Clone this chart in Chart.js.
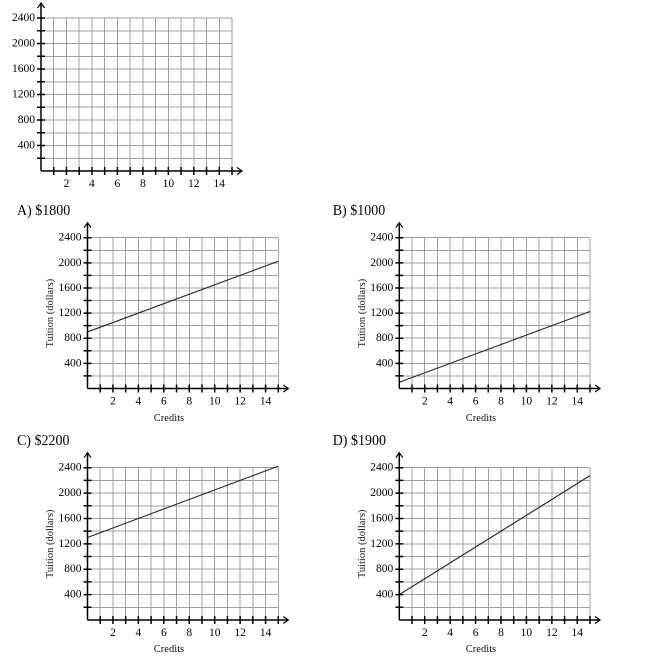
<!DOCTYPE html>
<html>
<head>
<meta charset="utf-8">
<script src="https://cdn.jsdelivr.net/npm/chart.js@4.4.1/dist/chart.umd.min.js"></script>
<style>
  html, body { margin: 0; padding: 0; background: #fff; }
  body { width: 650px; height: 657px; position: relative; overflow: hidden; font-family: 'Liberation Serif', 'DejaVu Serif', serif; color: #000; }
  canvas { position: absolute; }
  .opt { position: absolute; font-size: 14px; line-height: 16px; white-space: nowrap; }
  .xt { position: absolute; font-size: 10.5px; line-height: 12px; white-space: nowrap; transform: translateX(-50%); color: #111; }
</style>
</head>
<body>
<script>
// ---- data ----
const creditsRange = [0, 15];
const tuitionA = [900, 2025];
const tuitionB = [100, 1225];
const tuitionC = [1300, 2425];
const tuitionD = [400, 2275];
const optionLabels = ['A) $1800', 'B) $1000', 'C) $2200', 'D) $1900'];
const xTickValues = [2, 4, 6, 8, 10, 12, 14];
const yTickValues = [400, 800, 1200, 1600, 2000, 2400];
const xMax = 15, yMax = 2400, xStep = 1, yStep = 200;
const yAxisTitle = 'Tuition (dollars)';
const xAxisTitle = 'Credits';

Chart.defaults.font.family = "'Liberation Serif', 'DejaVu Serif', serif";
Chart.defaults.color = '#000';
Chart.defaults.animation = false;

const axesPlugin = {
  id: 'axesArrows',
  afterDraw(chart) {
    const ctx = chart.ctx, xs = chart.scales.x, ys = chart.scales.y;
    const x0 = xs.getPixelForValue(0), y0 = ys.getPixelForValue(0);
    const yTop = ys.getPixelForValue(yMax) - 15;
    const xEnd = xs.getPixelForValue(xMax) + 10;
    ctx.save();
    ctx.strokeStyle = '#000';
    ctx.lineWidth = 1.5;
    ctx.setLineDash([]);
    ctx.beginPath();
    ctx.moveTo(x0, y0); ctx.lineTo(x0, yTop);
    ctx.moveTo(x0, y0); ctx.lineTo(xEnd, y0);
    for (let v = yStep; v <= yMax; v += yStep) {
      const p = ys.getPixelForValue(v);
      ctx.moveTo(x0 - 4, p); ctx.lineTo(x0 + 4, p);
    }
    for (let v = xStep; v <= xMax; v += xStep) {
      const p = xs.getPixelForValue(v);
      ctx.moveTo(p, y0 - 4); ctx.lineTo(p, y0 + 4);
    }
    ctx.stroke();
    ctx.lineWidth = 1.2;
    ctx.beginPath();
    ctx.moveTo(x0 - 3.5, yTop + 5); ctx.lineTo(x0, yTop); ctx.lineTo(x0 + 3.5, yTop + 5);
    ctx.moveTo(xEnd - 5, y0 - 3.5); ctx.lineTo(xEnd, y0); ctx.lineTo(xEnd - 5, y0 + 3.5);
    ctx.stroke();
    ctx.restore();
  }
};

function makeGraph(g, tuition, withTitles) {
  const L = withTitles ? 75 : 40;
  const cl = Math.floor(g.axisX - L);
  const ct = Math.floor(g.topY - 22);
  const cw = Math.ceil(g.rightX + 20 - cl);
  const ch = Math.ceil(g.botY + 26 - ct);
  const cv = document.createElement('canvas');
  cv.width = cw; cv.height = ch;
  cv.style.left = cl + 'px'; cv.style.top = ct + 'px';
  cv.style.width = cw + 'px'; cv.style.height = ch + 'px';
  document.body.appendChild(cv);

  const datasets = tuition ? [{
    data: creditsRange.map((x, i) => ({ x: x, y: tuition[i] })),
    borderColor: '#262626',
    borderWidth: 1.1,
    pointRadius: 0,
    fill: false,
    clip: false,
    tension: 0
  }] : [];

  const gridOpts = {
    color: '#a0a0a0',
    lineWidth: 1,
    borderDash: [2, 1.5],
    dash: [2, 1.5],
    drawTicks: false
  };

  new Chart(cv, {
    type: 'line',
    data: { datasets: datasets },
    options: {
      responsive: false,
      maintainAspectRatio: false,
      devicePixelRatio: 2,
      layout: {
        padding: {
          left: 0,
          top: g.topY - ct,
          right: cl + cw - g.rightX,
          bottom: ct + ch - g.botY - 26
        }
      },
      plugins: { legend: { display: false }, tooltip: { enabled: false }, title: { display: false } },
      scales: {
        x: {
          type: 'linear', min: 0, max: xMax,
          border: { display: false },
          grid: gridOpts,
          afterFit: s => { s.height = 26; },
          afterBuildTicks: s => { s.ticks = []; for (let v = 0; v <= xMax; v += xStep) s.ticks.push({ value: v }); },
          ticks: {
            autoSkip: false, maxRotation: 0, minRotation: 0, padding: 6,
            font: { size: 11.5 }, color: '#000',
            callback: v => xTickValues.includes(v) ? String(v) : ''
          }
        },
        y: {
          type: 'linear', min: 0, max: yMax,
          border: { display: false },
          grid: gridOpts,
          afterFit: s => { s.width = g.axisX - cl; },
          afterBuildTicks: s => { s.ticks = []; for (let v = 0; v <= yMax; v += yStep) s.ticks.push({ value: v }); },
          ticks: {
            autoSkip: false, padding: 6,
            font: { size: 11.5 }, color: '#000',
            callback: v => yTickValues.includes(v) ? String(v) : ''
          },
          title: withTitles ? {
            display: true, text: yAxisTitle, color: '#1a1a1a',
            font: { size: 10.5 }, padding: { top: L - 37 - 6.3, bottom: 0 }
          } : { display: false }
        }
      }
    },
    plugins: [axesPlugin]
  });
}

function addText(cls, txt, left, top) {
  const d = document.createElement('div');
  d.className = cls; d.textContent = txt;
  d.style.left = left + 'px'; d.style.top = top + 'px';
  document.body.appendChild(d);
}

// top blank grid
makeGraph({ axisX: 41, topY: 18, botY: 171, rightX: 232 }, null, false);

const geoms = [
  { axisX: 87.5, topY: 237.7, botY: 388.5, rightX: 278.3, tx: 17, ty: 203, cx: 169, cy: 412 },
  { axisX: 399.3, topY: 237.7, botY: 388.5, rightX: 590, tx: 332.7, ty: 203, cx: 481, cy: 412 },
  { axisX: 87.5, topY: 467.7, botY: 620, rightX: 278.3, tx: 17, ty: 433, cx: 169, cy: 643 },
  { axisX: 399.3, topY: 467.7, botY: 620, rightX: 590, tx: 332.7, ty: 433, cx: 481, cy: 643 }
];
const allTuition = [tuitionA, tuitionB, tuitionC, tuitionD];
geoms.forEach((g, i) => {
  makeGraph(g, allTuition[i], true);
  addText('opt', optionLabels[i], g.tx, g.ty);
  addText('xt', xAxisTitle, g.cx, g.cy);
});
</script>
</body>
</html>
